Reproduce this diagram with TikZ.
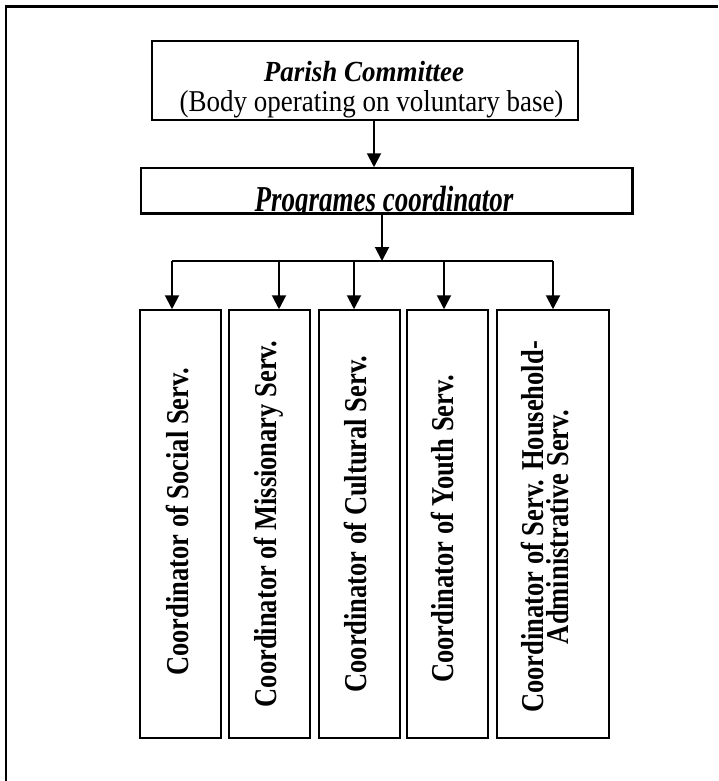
\documentclass[tikz,border=0pt]{standalone}
\usepackage{fontspec}
\setmainfont{Liberation Serif}
\usetikzlibrary{arrows.meta}
\begin{document}
\begin{tikzpicture}[x=1pt,y=-1pt,
  box/.style={draw, line width=1.5pt, inner sep=0pt},
  arr/.style={line width=2pt, -{Triangle[width=14pt,length=14pt]}},
  busline/.style={line width=2pt},
  frameline/.style={line width=2.2pt},
  titlefont/.style={font=\fontsize{27}{30}\selectfont\bfseries\itshape, inner sep=0pt},
  subfont/.style={font=\fontsize{27}{30}\selectfont, inner sep=0pt},
  vtext/.style={rotate=90, font=\fontsize{26.5}{25}\selectfont\bfseries, inner sep=0pt},
]
\useasboundingbox (0,0) rectangle (718,781);
% outer frame (only left and top edges visible)
\draw[frameline] (6,781) -- (6,6.5) -- (718,6.5);

% top box
\node[box, minimum width=426pt, minimum height=79pt] (par) at (365,80.5) {};
\node[titlefont, anchor=base] (parT) at (364,82) {\scalebox{1}[1.08]{Parish Committee}};
\node[subfont, anchor=base] (parS) at (371.5,112) {\scalebox{1}[1.12]{(Body operating on voluntary base)}};

% programmes box
\node[box, minimum width=491pt, minimum height=45pt] (prog) at (386.5,190.5) {};
\begin{scope}
  \clip (prog.north west) rectangle (prog.south east);
  \node[titlefont, anchor=base] (progT) at (384,211) {\scalebox{1}[1.35]{Programes coordinator}};
\end{scope}
\draw[line width=1.5pt] (prog.north west) rectangle (prog.south east);

% arrow top -> programmes
\coordinate (a0) at (374,0);
\draw[arr] (par.south -| a0) -- (prog.north -| a0);

% child boxes
\node[box, minimum width=81pt, minimum height=428pt] (s1) at (180.5,524) {};
\node[box, minimum width=81pt, minimum height=428pt] (s2) at (269.5,524) {};
\node[box, minimum width=81pt, minimum height=428pt] (s3) at (359.5,524) {};
\node[box, minimum width=81pt, minimum height=428pt] (s4) at (447.5,524) {};
\node[box, minimum width=112pt, minimum height=428pt] (s5) at (553,524) {};

\node[vtext, anchor=base] (t1) at (188,522) {\scalebox{1}[1.2]{Coordinator of Social Serv.}};
\node[vtext, anchor=base] (t2) at (276,524) {\scalebox{1}[1.2]{Coordinator of Missionary Serv.}};
\node[vtext, anchor=base] (t3) at (366,524) {\scalebox{1}[1.2]{Coordinator of Cultural Serv.}};
\node[vtext, anchor=base] (t4) at (453,529) {\scalebox{1}[1.2]{Coordinator of Youth Serv.}};
\node[vtext, align=center] (t5) at (545,527) {\scalebox{1}[1.2]{Coordinator of Serv. Household-}\\\scalebox{1}[1.2]{Administrative Serv.}};

% distribution
\coordinate (hub) at (382,261);
\coordinate (j1) at (172,261);
\coordinate (j2) at (279,261);
\coordinate (j3) at (354,261);
\coordinate (j4) at (444,261);
\coordinate (j5) at (553,261);
\draw[arr] (prog.south -| hub) -- (hub);
\draw[busline] (j1) -- (j5);
\draw[arr] (j1) -- (j1 |- s1.north);
\draw[arr] (j2) -- (j2 |- s2.north);
\draw[arr] (j3) -- (j3 |- s3.north);
\draw[arr] (j4) -- (j4 |- s4.north);
\draw[arr] (j5) -- (j5 |- s5.north);
\end{tikzpicture}
\end{document}
